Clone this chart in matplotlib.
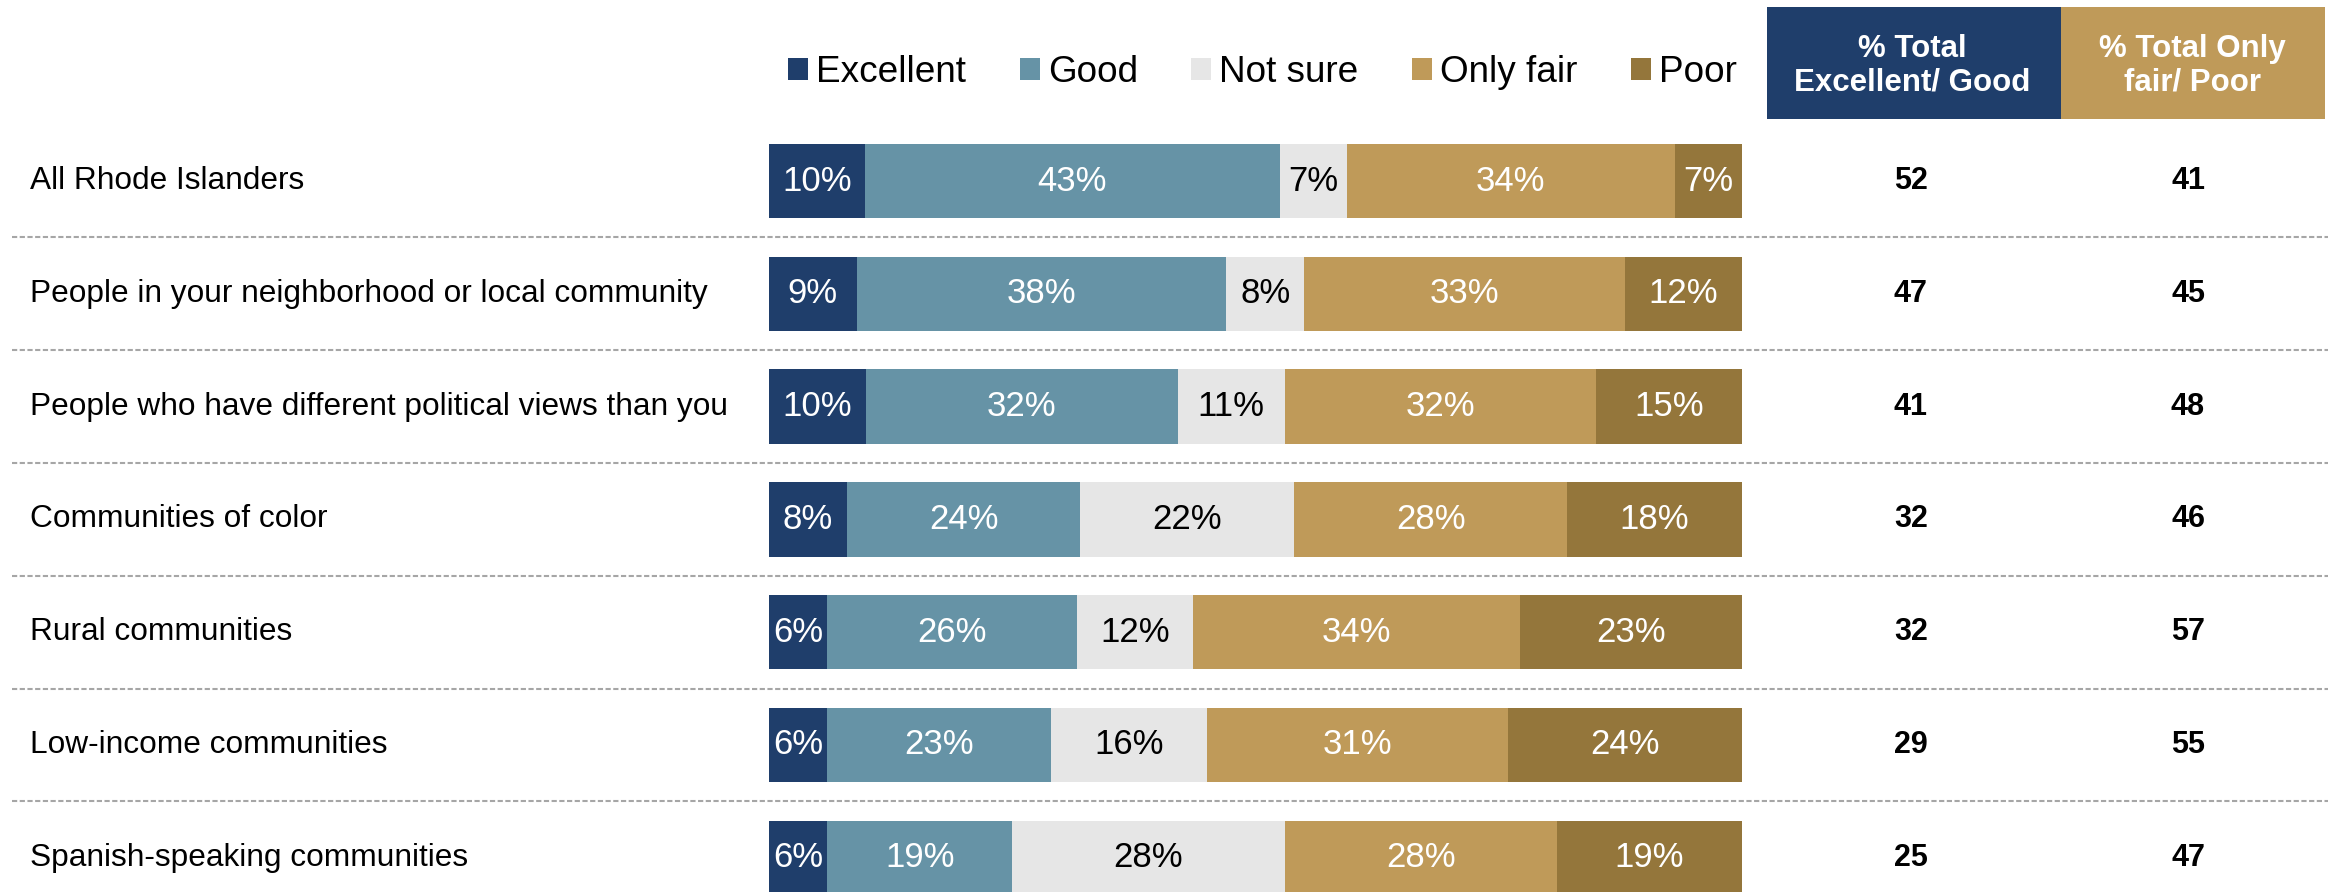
import matplotlib
matplotlib.use("Agg")
import matplotlib.pyplot as plt
from matplotlib.patches import Rectangle
import numpy as np

plt.rcParams['font.family'] = ['Liberation Sans', 'DejaVu Sans']

# data
groups = [
    "All Rhode Islanders",
    "People in your neighborhood or local community",
    "People who have different political views than you",
    "Communities of color",
    "Rural communities",
    "Low-income communities",
    "Spanish-speaking communities",
]
categories = ["Excellent", "Good", "Not sure", "Only fair", "Poor"]
excellent = [10, 9, 10, 8, 6, 6, 6]
good = [43, 38, 32, 24, 26, 23, 19]
not_sure = [7, 8, 11, 22, 12, 16, 28]
only_fair = [34, 33, 32, 28, 34, 31, 28]
poor = [7, 12, 15, 18, 23, 24, 19]
total_exc_good = [52, 47, 41, 32, 32, 29, 25]
total_fair_poor = [41, 45, 48, 46, 57, 55, 47]

colors = ["#1F3E6B", "#6693A6", "#E6E6E6", "#BF9A59", "#94763B"]
text_colors = ["white", "white", "black", "white", "white"]

# layout in pixels of the 2328x892 picture
W, H = 2328, 892
bar_left, bar_right = 769, 1742
row0, row_step = 181, 112.8

fig = plt.figure(figsize=(W / 100, H / 100), dpi=100)
ax = fig.add_axes([0, 0, 1, 1])
ax.axis("off")

scale = (bar_right - bar_left) / 100.0
ax.set_xlim(-bar_left / scale, (W - bar_left) / scale)
ax.set_ylim((H - row0) / row_step, -row0 / row_step)

series = [excellent, good, not_sure, only_fair, poor]
raw = np.array(series, dtype=float)
shares = raw / raw.sum(axis=0) * 100  # bars run full width
y = np.arange(len(groups))

left = np.zeros(len(groups))
handles = []
for k, cat in enumerate(categories):
    b = ax.barh(y, shares[k], left=left, height=0.66, color=colors[k],
                label=cat, linewidth=0)
    handles.append(b)
    for i in range(len(groups)):
        ax.text(left[i] + shares[k][i] / 2, y[i], f"{series[k][i]}%",
                ha="center", va="center", fontsize=25, color=text_colors[k])
    left += shares[k]

yt = ax.get_yaxis_transform()
for i, g in enumerate(groups):
    ax.text(30 / W, i, g, transform=yt, ha="left", va="center", fontsize=22.8,
            color="black")
    ax.text(1911 / W, i, str(total_exc_good[i]), transform=yt, ha="center",
            va="center", fontsize=22, fontweight="bold")
    ax.text(2188 / W, i, str(total_fair_poor[i]), transform=yt, ha="center",
            va="center", fontsize=22, fontweight="bold")

# dashed separators
for i in range(len(groups) - 1):
    ax.axhline(i + 0.5, xmin=12 / W, xmax=1, color="#A6A6A6", lw=1.5,
               linestyle=(0, (2.5, 1.2)))

# header boxes
def fy(p):
    return 1 - p / H

ax.add_patch(Rectangle((1767 / W, fy(119)), 294 / W, 112 / H,
                       transform=ax.transAxes, color=colors[0], lw=0))
ax.add_patch(Rectangle((2061 / W, fy(119)), 264 / W, 112 / H,
                       transform=ax.transAxes, color=colors[3], lw=0))
ax.text(1912 / W, fy(66), "% Total\nExcellent/ Good", transform=ax.transAxes,
        ha="center", va="center", fontsize=22.5, fontweight="bold",
        color="white", linespacing=1.15)
ax.text(2192 / W, fy(66), "% Total Only\nfair/ Poor", transform=ax.transAxes,
        ha="center", va="center", fontsize=22.5, fontweight="bold",
        color="white", linespacing=1.15)

leg = ax.legend(handles=handles, ncol=5, loc="center left",
                bbox_to_anchor=(788 / W, fy(73)), frameon=False, fontsize=26.6,
                handlelength=0.54, handleheight=0.54, handletextpad=0.22,
                columnspacing=1.45, borderpad=0, borderaxespad=0)

fig.savefig("out.png", dpi=100)
